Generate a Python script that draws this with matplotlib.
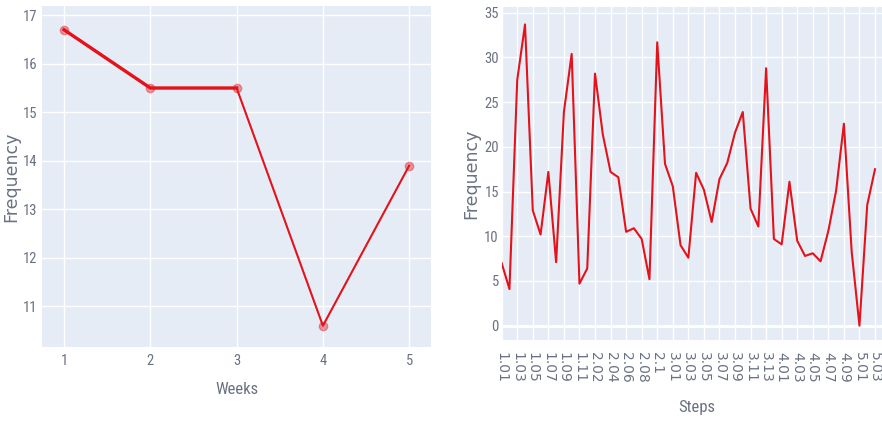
import matplotlib
matplotlib.use("Agg")
import matplotlib.pyplot as plt
from matplotlib import font_manager

# weekly data (left chart)
weeks = [1, 2, 3, 4, 5]
week_freq = [16.7, 15.5, 15.5, 10.6, 13.9]

# step data (right chart)
steps = ["1.01", "1.02", "1.03", "1.04", "1.05", "1.06", "1.07", "1.08", "1.09", "1.1", "1.11",
         "2.01", "2.02", "2.03", "2.04", "2.05", "2.06", "2.07", "2.08", "2.09", "2.1", "2.11",
         "3.01", "3.02", "3.03", "3.04", "3.05", "3.06", "3.07", "3.08", "3.09", "3.1", "3.11",
         "3.12", "3.13", "3.14",
         "4.01", "4.02", "4.03", "4.04", "4.05", "4.06", "4.07", "4.08", "4.09", "4.1",
         "5.01", "5.02", "5.03"]
step_freq = [7.0, 4.1, 27.5, 33.7, 12.9, 10.2, 17.2, 7.1, 23.9, 30.4,
             4.7, 6.4, 28.2, 21.4, 17.2, 16.6, 10.5, 10.9, 9.7, 5.2,
             31.7, 18.1, 15.6, 9.0, 7.6, 17.1, 15.2, 11.6, 16.4, 18.2,
             21.6, 23.9, 13.1, 11.1, 28.8, 9.7, 9.1, 16.1, 9.5, 7.8,
             8.1, 7.2, 10.6, 15.1, 22.6, 8.3, 0.0, 13.5, 17.5]

# pick a narrow face for the horizontal texts
names = {f.name for f in font_manager.fontManager.ttflist}
narrow = "DejaVu Sans"
for cand in ["Liberation Sans Narrow", "Roboto Condensed", "Open Sans Condensed", "Liberation Sans"]:
    if cand in names:
        narrow = cand
        break

BG = "#e5ecf6"
RED = "#e3121b"
TXT = "#6a7182"

fig = plt.figure(figsize=(8.82, 4.21), dpi=100)
ax1 = fig.add_axes([0.0473, 0.175, 0.4408, 0.8107])
ax2 = fig.add_axes([0.5688, 0.1924, 0.4312, 0.791])

for ax in (ax1, ax2):
    ax.set_facecolor(BG)
    for s in ax.spines.values():
        s.set_visible(False)
    ax.set_axisbelow(True)
    ax.grid(True, color="white", linewidth=1.0)
    ax.tick_params(length=0, colors=TXT)

# left chart
ax1.plot(weeks, week_freq, color=RED, linewidth=1.5)
ax1.plot(weeks[:3], week_freq[:3], color=RED, linewidth=2.4)
ax1.plot(weeks, week_freq, "o", color=RED, alpha=0.4, markersize=6)
ax1.set_xlim(0.741, 5.247)
ax1.set_ylim(10.155, 17.19)
ax1.set_xticks(weeks)
ax1.set_yticks(range(11, 18))
for lb in ax1.get_xticklabels() + ax1.get_yticklabels():
    lb.set_fontfamily(narrow)
    lb.set_fontsize(10.5)
ax1.tick_params(axis="x", pad=5)
ax1.tick_params(axis="y", pad=3)
ax1.set_xlabel("Weeks", fontfamily=narrow, fontsize=12, color=TXT)
ax1.xaxis.set_label_coords(0.502, -0.102)
ax1.set_ylabel("Frequency", fontfamily="DejaVu Sans", fontsize=12.5, color=TXT)
ax1.yaxis.set_label_coords(-0.056, 0.5)

# right chart
ax2.plot(steps, step_freq, color=RED, linewidth=1.5)
ax2.axhline(0, color="white", linewidth=2.2, zorder=1)
ax2.set_xlim(0, 48.9)
ax2.set_ylim(-1.6, 35.65)
ax2.set_xticks(range(0, len(steps), 2))
ax2.set_xticklabels(steps[::2], rotation=-90, fontfamily="DejaVu Sans", fontsize=10)
ax2.set_yticks(range(0, 36, 5))
for lb in ax2.get_yticklabels():
    lb.set_fontfamily(narrow)
    lb.set_fontsize(10.5)
ax2.tick_params(axis="x", pad=9)
ax2.tick_params(axis="y", pad=2)
ax2.set_xlabel("Steps", fontfamily=narrow, fontsize=12, color=TXT)
ax2.xaxis.set_label_coords(0.512, -0.18)
ax2.set_ylabel("Frequency", fontfamily="DejaVu Sans", fontsize=12.5, color=TXT)
ax2.yaxis.set_label_coords(-0.057, 0.5)

fig.savefig("out.png", dpi=100)
